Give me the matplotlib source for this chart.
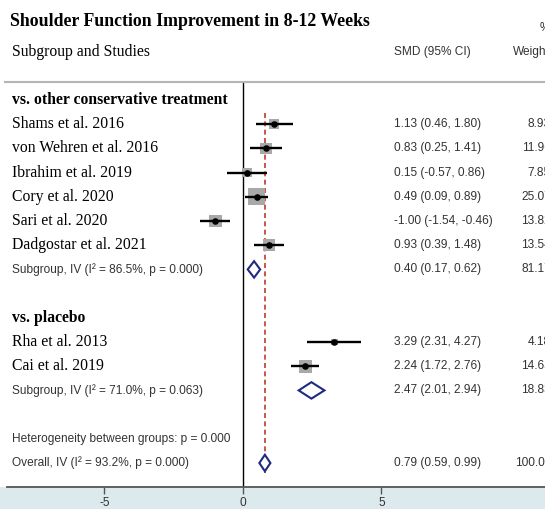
import matplotlib
matplotlib.use("Agg")
import matplotlib.pyplot as plt
from matplotlib.patches import Polygon, Rectangle
import numpy as np

# ---------------- data ----------------
title = "Shoulder Function Improvement in 8-12 Weeks"
group1_label = "vs. other conservative treatment"
group2_label = "vs. placebo"

studies1 = ["Shams et al. 2016", "von Wehren et al. 2016", "Ibrahim et al. 2019",
            "Cory et al. 2020", "Sari et al. 2020", "Dadgostar et al. 2021"]
es1 = [1.13, 0.83, 0.15, 0.49, -1.00, 0.93]
lo1 = [0.46, 0.25, -0.57, 0.09, -1.54, 0.39]
hi1 = [1.80, 1.41, 0.86, 0.89, -0.46, 1.48]
w1 = [8.93, 11.96, 7.85, 25.07, 13.82, 13.54]
sub1 = (0.40, 0.17, 0.62, 81.17)
sub1_label = "Subgroup, IV (I² = 86.5%, p = 0.000)"

studies2 = ["Rha et al. 2013", "Cai et al. 2019"]
es2 = [3.29, 2.24]
lo2 = [2.31, 1.72]
hi2 = [4.27, 2.76]
w2 = [4.18, 14.65]
sub2 = (2.47, 2.01, 2.94, 18.83)
sub2_label = "Subgroup, IV (I² = 71.0%, p = 0.063)"

het_label = "Heterogeneity between groups: p = 0.000"
overall = (0.79, 0.59, 0.99, 100.00)
overall_label = "Overall, IV (I² = 93.2%, p = 0.000)"

xticks = [-5, 0, 5]

# ---------------- layout ----------------
W, H = 545, 509
fig = plt.figure(figsize=(W / 100, H / 100), dpi=100)
fig.patch.set_facecolor("white")

band_px = 22
fig.patches.append(Rectangle((0, 0), 1, band_px / H, transform=fig.transFigure,
                             facecolor="#dce9ed", edgecolor="none", zorder=-5))

ax = fig.add_axes([0, band_px / H, 1, 1 - band_px / H])
ax.set_zorder(2)
ax.patch.set_alpha(0)
ppu = 27.7
x0_px = 243
ax.set_xlim(-x0_px / ppu, (W - x0_px) / ppu)
row0_px, row_h = 100, 24.2
ax.set_ylim((H - band_px - row0_px) / row_h, -row0_px / row_h)

for s in ["top", "left", "right"]:
    ax.spines[s].set_visible(False)
ax.spines["bottom"].set_color("#555555")
ax.spines["bottom"].set_linewidth(1.3)
ax.spines["bottom"].set_bounds((7 - x0_px) / ppu, (W - x0_px) / ppu)
ax.set_yticks([])
ax.set_xticks(xticks)
ax.set_xticklabels([str(t) for t in xticks], fontfamily="Liberation Sans")
ax.tick_params(axis="x", direction="out", length=5, width=1, color="#555555",
               pad=2, labelsize=8.6, labelcolor="#333333")

serif = "Liberation Serif"
sans = "Liberation Sans"
fs_serif = 11.3
fs_sans = 8.6
txt_x = 12 / W
trans = ax.get_yaxis_transform()  # x in axes fraction, y in data
ci_x = 394 / W
wt_x = 551 / W

def ypx(p):
    return (p - row0_px) / row_h

# header
ax.text(10 / W, ypx(22), title, transform=trans, fontfamily=serif, fontweight="bold",
        fontsize=12.8, va="center", ha="left")
ax.text(txt_x, ypx(52), "Subgroup and Studies", transform=trans, fontfamily=serif,
        fontsize=fs_serif, va="center", ha="left")
ax.text(ci_x, ypx(52), "SMD (95% CI)", transform=trans, fontfamily=sans,
        fontsize=fs_sans, va="center", ha="left", color="#333333")
ax.text(550 / W, ypx(52), "Weight", transform=trans, fontfamily=sans,
        fontsize=fs_sans, va="center", ha="right", color="#333333")
ax.text(550 / W, ypx(28), "%", transform=trans, fontfamily=sans,
        fontsize=fs_sans, va="center", ha="right", color="#333333")
ax.plot([5 / W, 1], [ypx(82), ypx(82)], transform=trans, color="#b5b5b5", lw=1.5,
        clip_on=False)

# vertical reference lines
ax.vlines(0, ypx(82), ypx(H - band_px), color="black", lw=1.0, zorder=1)
ax.vlines(overall[0], 0.55, 15.4, color="#c0392b", lw=1.2, linestyles=(0, (3, 2)),
          zorder=1)

def ci_text(e, l, h):
    return f"{e:.2f} ({l:.2f}, {h:.2f})"

def draw_studies(names, es, lo, hi, w, start_row):
    rows = np.arange(len(names)) + start_row
    ax.hlines(rows, lo, hi, color="black", lw=1.7, zorder=3)
    ax.scatter(es, rows, marker="s", s=np.array(w) * 6.0, color="#a8a8a8",
               edgecolors="none", zorder=2)
    ax.scatter(es, rows, marker="o", s=14, color="black", zorder=4)
    for r, n, e, l, h, ww in zip(rows, names, es, lo, hi, w):
        ax.text(txt_x, r, n, transform=trans, fontfamily=serif, fontsize=fs_serif,
                va="center", ha="left")
        ax.text(ci_x, r, ci_text(e, l, h), transform=trans, fontfamily=sans,
                fontsize=fs_sans, va="center", ha="left", color="#333333")
        ax.text(wt_x, r, f"{ww:.2f}", transform=trans, fontfamily=sans,
                fontsize=fs_sans, va="center", ha="right", color="#333333")

def draw_diamond(vals, row, label, hh=0.34):
    e, l, h, ww = vals
    poly = Polygon([(l, row), (e, row - hh), (h, row), (e, row + hh)], closed=True,
                   facecolor="white", edgecolor="#1f2a80", lw=1.5, zorder=5)
    ax.add_patch(poly)
    ax.text(txt_x, row, label, transform=trans, fontfamily=sans, fontsize=fs_sans,
            va="center", ha="left", color="#333333")
    ax.text(ci_x, row, ci_text(e, l, h), transform=trans, fontfamily=sans,
            fontsize=fs_sans, va="center", ha="left", color="#333333")
    ax.text(wt_x, row, f"{ww:.2f}", transform=trans, fontfamily=sans,
            fontsize=fs_sans, va="center", ha="right", color="#333333")

# group 1
ax.text(txt_x, 0, group1_label, transform=trans, fontfamily=serif, fontweight="bold",
        fontsize=fs_serif, va="center", ha="left")
draw_studies(studies1, es1, lo1, hi1, w1, 1)
draw_diamond(sub1, 7, sub1_label)

# group 2
ax.text(txt_x, 9, group2_label, transform=trans, fontfamily=serif, fontweight="bold",
        fontsize=fs_serif, va="center", ha="left")
draw_studies(studies2, es2, lo2, hi2, w2, 10)
draw_diamond(sub2, 12, sub2_label)

# overall
ax.text(txt_x, 14, het_label, transform=trans, fontfamily=sans, fontsize=fs_sans,
        va="center", ha="left", color="#333333")
draw_diamond(overall, 15, overall_label)

fig.savefig("out.png", dpi=100)
